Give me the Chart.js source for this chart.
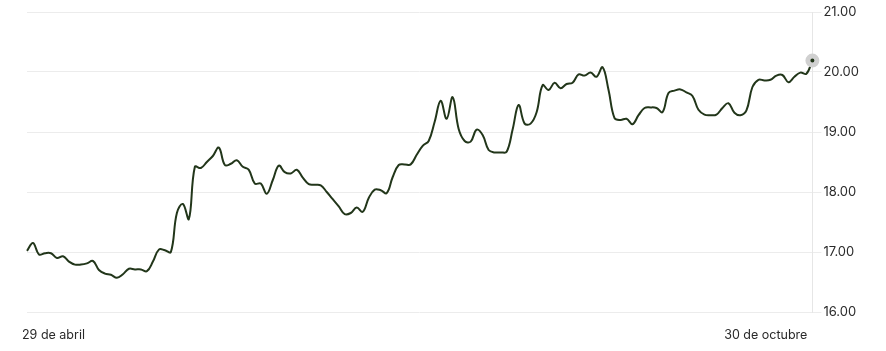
<!DOCTYPE html>
<html lang="es">
<head>
<meta charset="utf-8">
<title>Precio</title>
<script src="https://cdn.jsdelivr.net/npm/chart.js@4.4.1/dist/chart.umd.min.js"></script>
<style>
  html, body { margin: 0; padding: 0; background: #fff; }
  #marco { width: 886px; height: 351px; position: relative; }
</style>
</head>
<body>
<div id="marco"><canvas id="grafico"></canvas></div>
<script>
// --- Datos ---
const fechaInicio = '29 de abril';
const fechaFin = '30 de octubre';

const precios = [
  17.02, 17.15, 16.96, 16.98, 16.98, 16.90, 16.93, 16.84, 16.79, 16.79,
  16.81, 16.85, 16.70, 16.64, 16.62, 16.57, 16.63, 16.72, 16.71, 16.71,
  16.68, 16.84, 17.04, 17.03, 17.00, 17.65, 17.80, 17.55, 18.42, 18.40,
  18.50, 18.60, 18.74, 18.45, 18.47, 18.53, 18.42, 18.37, 18.14, 18.14,
  17.97, 18.20, 18.44, 18.33, 18.31, 18.37, 18.24, 18.13, 18.12, 18.11,
  18.00, 17.88, 17.76, 17.63, 17.65, 17.74, 17.67, 17.90, 18.04, 18.03,
  17.98, 18.25, 18.45, 18.46, 18.46, 18.62, 18.77, 18.85, 19.17, 19.52,
  19.22, 19.58, 19.05, 18.85, 18.84, 19.04, 18.95, 18.70, 18.66, 18.66,
  18.67, 19.04, 19.45, 19.14, 19.14, 19.33, 19.78, 19.70, 19.82, 19.73,
  19.80, 19.82, 19.96, 19.94, 19.99, 19.92, 20.08, 19.70, 19.23, 19.20,
  19.22, 19.13, 19.28, 19.40, 19.41, 19.40, 19.33, 19.65, 19.69, 19.71,
  19.66, 19.60, 19.37, 19.29, 19.28, 19.29, 19.40, 19.48, 19.32, 19.28,
  19.36, 19.75, 19.87, 19.86, 19.87, 19.94, 19.95, 19.83, 19.92, 19.99,
  19.97, 20.19
];

const ticksY = [16, 17, 18, 19, 20, 21];

// categorías: una por sesión, sólo se rotulan la primera y la última
const categorias = precios.map((_, i) => i);
const ultimo = precios.length - 1;

const ctx = document.getElementById('grafico').getContext('2d');
new Chart(ctx, {
  type: 'line',
  data: {
    labels: categorias,
    datasets: [{
      data: precios,
      borderColor: '#22361a',
      borderWidth: 2,
      tension: 0.4,
      fill: false,
      pointRadius: precios.map((_, i) => i === ultimo ? 4.5 : 0),
      pointBackgroundColor: '#22361a',
      pointBorderColor: '#d0d0d0',
      pointBorderWidth: 5
    }]
  },
  options: {
    responsive: true,
    maintainAspectRatio: false,
    animation: false,
    layout: { padding: { left: 27, right: 25, top: 12, bottom: 9 } },
    plugins: {
      legend: { display: false },
      tooltip: { enabled: false }
    },
    scales: {
      x: {
        grid: { display: false, drawTicks: false },
        border: { display: false },
        afterFit: (eje) => { eje.height = 30; },
        ticks: {
          autoSkip: false,
          maxRotation: 0,
          align: 'inner',
          padding: 16,
          labelOffset: -5,
          color: '#2a2a2a',
          font: { family: 'Inter', size: 12.5 },
          callback: (v, i) => i === 0 ? fechaInicio : (i === ultimo ? fechaFin : null)
        }
      },
      y: {
        position: 'right',
        min: ticksY[0],
        max: ticksY[ticksY.length - 1],
        afterBuildTicks: (eje) => { eje.ticks = ticksY.map(v => ({ value: v })); },
        grid: { color: '#ececec', tickLength: 9 },
        border: { display: true, color: '#e6e6e6' },
        ticks: {
          padding: 2,
          color: '#2a2a2a',
          font: { family: 'Inter', size: 13 },
          callback: (v) => Number(v).toFixed(2)
        }
      }
    }
  }
});
</script>
</body>
</html>
